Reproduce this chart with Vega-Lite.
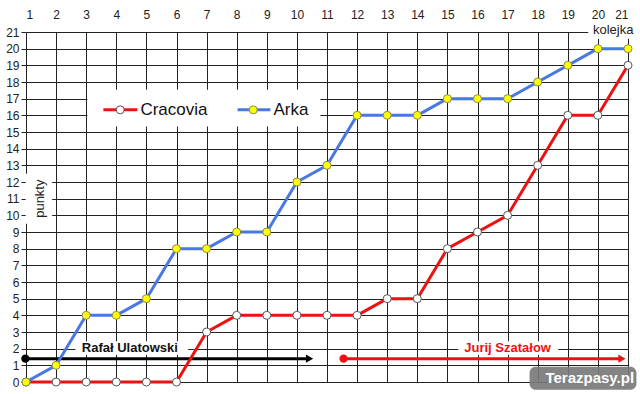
{
  "$schema": "https://vega.github.io/schema/vega-lite/v6.json",
  "width": 602,
  "height": 350,
  "autosize": {"type": "none"},
  "padding": {"left": 26, "top": 32, "right": 12, "bottom": 12},
  "background": "white",
  "config": {
    "view": {"stroke": null},
    "font": "Liberation Sans",
    "axis": {"labelFont": "Liberation Sans", "labelFontSize": 12, "labelColor": "#222222", "gridColor": "#222222", "gridOpacity": 1, "gridWidth": 1}
  },
  "datasets": {
    "teams": [
      {"team": "Cracovia", "x": 1, "y": 0}, {"team": "Cracovia", "x": 2, "y": 0}, {"team": "Cracovia", "x": 3, "y": 0},
      {"team": "Cracovia", "x": 4, "y": 0}, {"team": "Cracovia", "x": 5, "y": 0}, {"team": "Cracovia", "x": 6, "y": 0},
      {"team": "Cracovia", "x": 7, "y": 3}, {"team": "Cracovia", "x": 8, "y": 4}, {"team": "Cracovia", "x": 9, "y": 4},
      {"team": "Cracovia", "x": 10, "y": 4}, {"team": "Cracovia", "x": 11, "y": 4}, {"team": "Cracovia", "x": 12, "y": 4},
      {"team": "Cracovia", "x": 13, "y": 5}, {"team": "Cracovia", "x": 14, "y": 5}, {"team": "Cracovia", "x": 15, "y": 8},
      {"team": "Cracovia", "x": 16, "y": 9}, {"team": "Cracovia", "x": 17, "y": 10}, {"team": "Cracovia", "x": 18, "y": 13},
      {"team": "Cracovia", "x": 19, "y": 16}, {"team": "Cracovia", "x": 20, "y": 16}, {"team": "Cracovia", "x": 21, "y": 19},
      {"team": "Arka", "x": 1, "y": 0}, {"team": "Arka", "x": 2, "y": 1}, {"team": "Arka", "x": 3, "y": 4},
      {"team": "Arka", "x": 4, "y": 4}, {"team": "Arka", "x": 5, "y": 5}, {"team": "Arka", "x": 6, "y": 8},
      {"team": "Arka", "x": 7, "y": 8}, {"team": "Arka", "x": 8, "y": 9}, {"team": "Arka", "x": 9, "y": 9},
      {"team": "Arka", "x": 10, "y": 12}, {"team": "Arka", "x": 11, "y": 13}, {"team": "Arka", "x": 12, "y": 16},
      {"team": "Arka", "x": 13, "y": 16}, {"team": "Arka", "x": 14, "y": 16}, {"team": "Arka", "x": 15, "y": 17},
      {"team": "Arka", "x": 16, "y": 17}, {"team": "Arka", "x": 17, "y": 17}, {"team": "Arka", "x": 18, "y": 18},
      {"team": "Arka", "x": 19, "y": 19}, {"team": "Arka", "x": 20, "y": 20}, {"team": "Arka", "x": 21, "y": 20}
    ],
    "boxes": [
      {"x": 2.64, "x2": 6.39, "y": 1.62, "y2": 2.45},
      {"x": 15.36, "x2": 18.68, "y": 1.62, "y2": 2.45},
      {"x": 0.99, "x2": 1.87, "y": 9.5, "y2": 12.5},
      {"x": 19.68, "x2": 21.4, "y": 20.6, "y2": 21.6},
      {"x": 3.04, "x2": 10.78, "y": 15.33, "y2": 17.53}
    ],
    "arrows": [
      {"who": "Ulatowski", "x": 0.98, "x2": 10.39, "xh": 10.42, "y": 1.4, "color": "#000000", "tcolor": "#111111", "lx": 4.45, "ly": 2.02, "label": "Rafał Ulatowski"},
      {"who": "Szatalow", "x": 11.55, "x2": 20.8, "xh": 20.8, "y": 1.4, "color": "#ee1111", "tcolor": "#ee1111", "lx": 17.0, "ly": 2.07, "label": "Jurij Szatałow"}
    ],
    "legend": [
      {"team": "Cracovia", "x": 3.57, "x2": 4.7, "xc": 4.13, "xt": 4.8, "y": 16.33},
      {"team": "Arka", "x": 8.03, "x2": 9.12, "xc": 8.55, "xt": 9.22, "y": 16.33}
    ],
    "labels": [
      {"x": 21.18, "y": 21.13, "t": "kolejka"}
    ],
    "ylabel": [
      {"x": 1.475, "y": 11.0, "t": "punkty"}
    ],
    "watermark": [
      {"x": 17.73, "x2": 21.28, "y": -0.46, "y2": 0.92, "xt": 19.73, "yt": 0.22, "t": "Terazpasy.pl"}
    ]
  },
  "encoding": {
    "x": {
      "field": "x", "type": "quantitative",
      "scale": {"domain": [1, 21], "nice": false, "zero": false},
      "axis": {"orient": "top", "values": [1,2,3,4,5,6,7,8,9,10,11,12,13,14,15,16,17,18,19,20,21], "format": "d", "title": null, "ticks": false, "domain": false, "grid": true, "labelPadding": 11}
    },
    "y": {
      "field": "y", "type": "quantitative",
      "scale": {"domain": [0, 21], "nice": false, "zero": false},
      "axis": {"orient": "left", "values": [0,1,2,3,4,5,6,7,8,9,10,11,12,13,14,15,16,17,18,19,20,21], "format": "d", "title": null, "ticks": true, "tickSize": 5, "tickColor": "#222222", "domain": false, "grid": true, "labelPadding": 2}
    }
  },
  "layer": [
    {
      "data": {"name": "boxes"},
      "mark": {"type": "rect", "fill": "white", "stroke": null},
      "encoding": {"x2": {"field": "x2"}, "y2": {"field": "y2"}}
    },
    {
      "data": {"name": "arrows"},
      "mark": {"type": "rule", "strokeWidth": 3},
      "encoding": {"x2": {"field": "x2"}, "color": {"field": "color", "type": "nominal", "scale": null}}
    },
    {
      "data": {"name": "arrows"},
      "mark": {"type": "point", "filled": true, "size": 70, "opacity": 1},
      "encoding": {"color": {"field": "color", "type": "nominal", "scale": null}}
    },
    {
      "data": {"name": "arrows"},
      "mark": {"type": "point", "shape": "triangle-right", "filled": true, "size": 70, "opacity": 1},
      "encoding": {"x": {"field": "xh", "type": "quantitative"}, "color": {"field": "color", "type": "nominal", "scale": null}}
    },
    {
      "data": {"name": "arrows"},
      "mark": {"type": "text", "fontSize": 13, "fontWeight": "bold", "align": "center", "baseline": "middle"},
      "encoding": {"x": {"field": "lx", "type": "quantitative"}, "y": {"field": "ly", "type": "quantitative"}, "text": {"field": "label"}, "color": {"field": "tcolor", "type": "nominal", "scale": null}}
    },
    {
      "data": {"name": "teams"},
      "transform": [{"filter": "datum.team === 'Cracovia'"}],
      "mark": {"type": "line", "interpolate": "linear", "strokeWidth": 3, "color": "#ee1111", "strokeJoin": "round"},
      "encoding": {}
    },
    {
      "data": {"name": "teams"},
      "transform": [{"filter": "datum.team === 'Cracovia'"}],
      "mark": {"type": "point", "filled": true, "fill": "#ffffff", "stroke": "#555555", "strokeWidth": 1, "size": 64, "opacity": 1},
      "encoding": {}
    },
    {
      "data": {"name": "teams"},
      "transform": [{"filter": "datum.team === 'Arka'"}],
      "mark": {"type": "line", "interpolate": "linear", "strokeWidth": 3, "color": "#4a78e2", "strokeJoin": "round"},
      "encoding": {}
    },
    {
      "data": {"name": "teams"},
      "transform": [{"filter": "datum.team === 'Arka'"}],
      "mark": {"type": "point", "filled": true, "fill": "#ffff00", "stroke": "#8a8a50", "strokeWidth": 1, "size": 64, "opacity": 1},
      "encoding": {}
    },
    {
      "data": {"name": "legend"},
      "mark": {"type": "rule", "strokeWidth": 3},
      "encoding": {"x2": {"field": "x2"}, "color": {"field": "team", "type": "nominal", "scale": {"domain": ["Cracovia", "Arka"], "range": ["#ee1111", "#4a78e2"]}, "legend": null}}
    },
    {
      "data": {"name": "legend"},
      "mark": {"type": "point", "filled": true, "strokeWidth": 1, "size": 64, "opacity": 1},
      "encoding": {
        "x": {"field": "xc", "type": "quantitative"},
        "fill": {"field": "team", "type": "nominal", "scale": {"domain": ["Cracovia", "Arka"], "range": ["#ffffff", "#ffff00"]}, "legend": null},
        "stroke": {"field": "team", "type": "nominal", "scale": {"domain": ["Cracovia", "Arka"], "range": ["#555555", "#8a8a50"]}, "legend": null}
      }
    },
    {
      "data": {"name": "legend"},
      "mark": {"type": "text", "fontSize": 17, "align": "left", "baseline": "middle", "color": "#111111"},
      "encoding": {"x": {"field": "xt", "type": "quantitative"}, "text": {"field": "team"}}
    },
    {
      "data": {"name": "labels"},
      "mark": {"type": "text", "fontSize": 13, "align": "right", "baseline": "middle", "color": "#222222"},
      "encoding": {"text": {"field": "t"}}
    },
    {
      "data": {"name": "ylabel"},
      "mark": {"type": "text", "fontSize": 13, "align": "center", "baseline": "middle", "angle": 270, "color": "#222222"},
      "encoding": {"text": {"field": "t"}}
    },
    {
      "data": {"name": "watermark"},
      "mark": {"type": "rect", "fill": "#7a7a7a", "opacity": 0.92, "cornerRadius": 6},
      "encoding": {"x2": {"field": "x2"}, "y2": {"field": "y2"}}
    },
    {
      "data": {"name": "watermark"},
      "mark": {"type": "text", "fontSize": 15, "fontWeight": "bold", "align": "center", "baseline": "middle", "color": "#ffffff"},
      "encoding": {"x": {"field": "xt", "type": "quantitative"}, "y": {"field": "yt", "type": "quantitative"}, "text": {"field": "t"}}
    }
  ]
}
